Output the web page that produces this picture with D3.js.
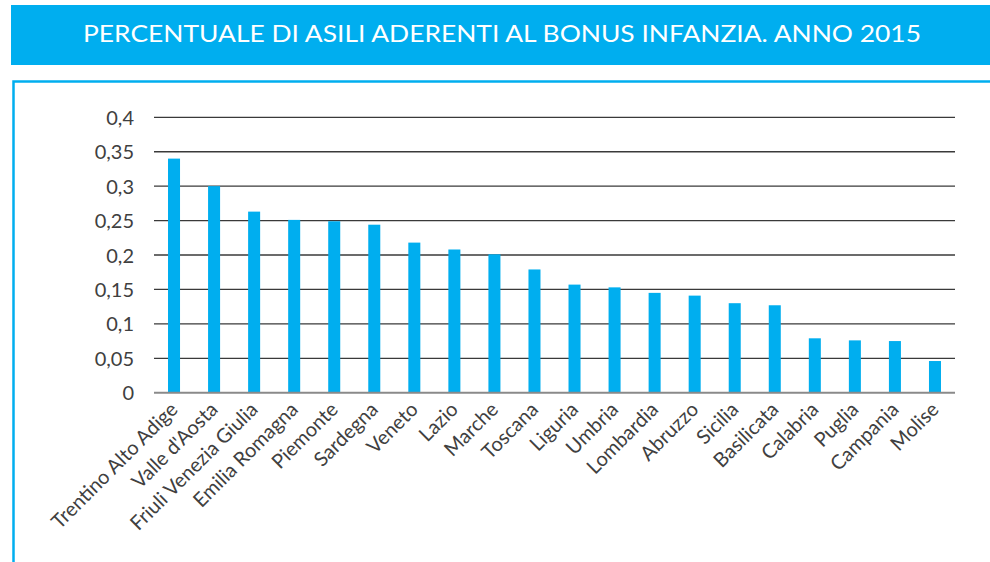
<!DOCTYPE html>
<html>
<head>
<meta charset="utf-8">
<script src="https://cdn.jsdelivr.net/npm/d3@7"></script>
<style>
  html, body { margin: 0; padding: 0; background: #fff; }
  svg { display: block; }
</style>
</head>
<body>
<svg id="chart" width="990" height="562"></svg>
<script>
const title = "PERCENTUALE DI ASILI ADERENTI AL BONUS INFANZIA. ANNO 2015";
const categories = ["Trentino Alto Adige", "Valle d'Aosta", "Friuli Venezia Giulia", "Emilia Romagna", "Piemonte", "Sardegna", "Veneto", "Lazio", "Marche", "Toscana", "Liguria", "Umbria", "Lombardia", "Abruzzo", "Sicilia", "Basilicata", "Calabria", "Puglia", "Campania", "Molise"];
const values = [0.34, 0.30, 0.263, 0.251, 0.249, 0.244, 0.218, 0.208, 0.201, 0.179, 0.157, 0.153, 0.145, 0.141, 0.130, 0.127, 0.079, 0.076, 0.075, 0.046];
const yTicks = [0, 0.05, 0.1, 0.15, 0.2, 0.25, 0.3, 0.35, 0.4];

const BLUE = "#00AEEF";
const FONT = "Lato, 'Open Sans', sans-serif";
const svg = d3.select("#chart");

// Title bar
svg.append("rect").attr("x", 11).attr("y", 5).attr("width", 979).attr("height", 60).attr("fill", BLUE);
svg.append("text")
  .attr("x", 502).attr("y", 42)
  .attr("text-anchor", "middle")
  .attr("fill", "#fff")
  .attr("font-family", FONT)
  .attr("font-size", 23)
  .attr("textLength", 838)
  .attr("lengthAdjust", "spacingAndGlyphs")
  .text(title);

// Panel border
svg.append("path")
  .attr("d", "M13.5,562 L13.5,81.5 L990,81.5")
  .attr("fill", "none").attr("stroke", BLUE).attr("stroke-width", 2.5);

// Scales
const x0 = 154, x1 = 955, yTop = 117.3, yBot = 392.7;
const x = d3.scaleBand().domain(categories).range([x0, x1]).paddingInner(0.7).paddingOuter(0.35);
const y = d3.scaleLinear().domain([0, 0.4]).range([yBot, yTop]);

// Gridlines
const fmt = d => String(d).replace(".", ",");
const g = svg.append("g");
g.selectAll("line.grid").data(yTicks.filter(d => d > 0)).join("line")
  .attr("class", "grid")
  .attr("x1", x0).attr("x2", x1)
  .attr("y1", d => y(d)).attr("y2", d => y(d))
  .attr("stroke", "#3a3a3a").attr("stroke-width", 1.3);

// Bars
svg.append("g").selectAll("rect").data(values).join("rect")
  .attr("x", (d, i) => x(categories[i]))
  .attr("width", x.bandwidth())
  .attr("y", d => y(d))
  .attr("height", d => y(0) - y(d))
  .attr("fill", BLUE);

// Baseline
svg.append("line").attr("x1", x0).attr("x2", x1).attr("y1", y(0)).attr("y2", y(0))
  .attr("stroke", "#8a8a8a").attr("stroke-width", 2);

// Y axis labels
const yAxis = d3.axisLeft(y).tickValues(yTicks).tickFormat(fmt).tickSize(0).tickPadding(0);
const ya = svg.append("g").attr("transform", `translate(134,0)`).call(yAxis);
ya.select(".domain").remove();
ya.selectAll("text")
  .attr("font-family", FONT).attr("font-size", 20).attr("fill", "#404040").attr("dy", "0.35em");

// X axis labels
const xAxis = d3.axisBottom(x).tickSize(0).tickPadding(0);
const xa = svg.append("g").attr("transform", `translate(0,${yBot})`).call(xAxis);
xa.select(".domain").remove();
xa.selectAll("text")
  .attr("font-family", FONT).attr("font-size", 20).attr("fill", "#404040")
  .attr("text-anchor", "end")
  .attr("dy", null).attr("y", null)
  .attr("transform", "translate(5,18) rotate(-45)");
</script>
</body>
</html>
